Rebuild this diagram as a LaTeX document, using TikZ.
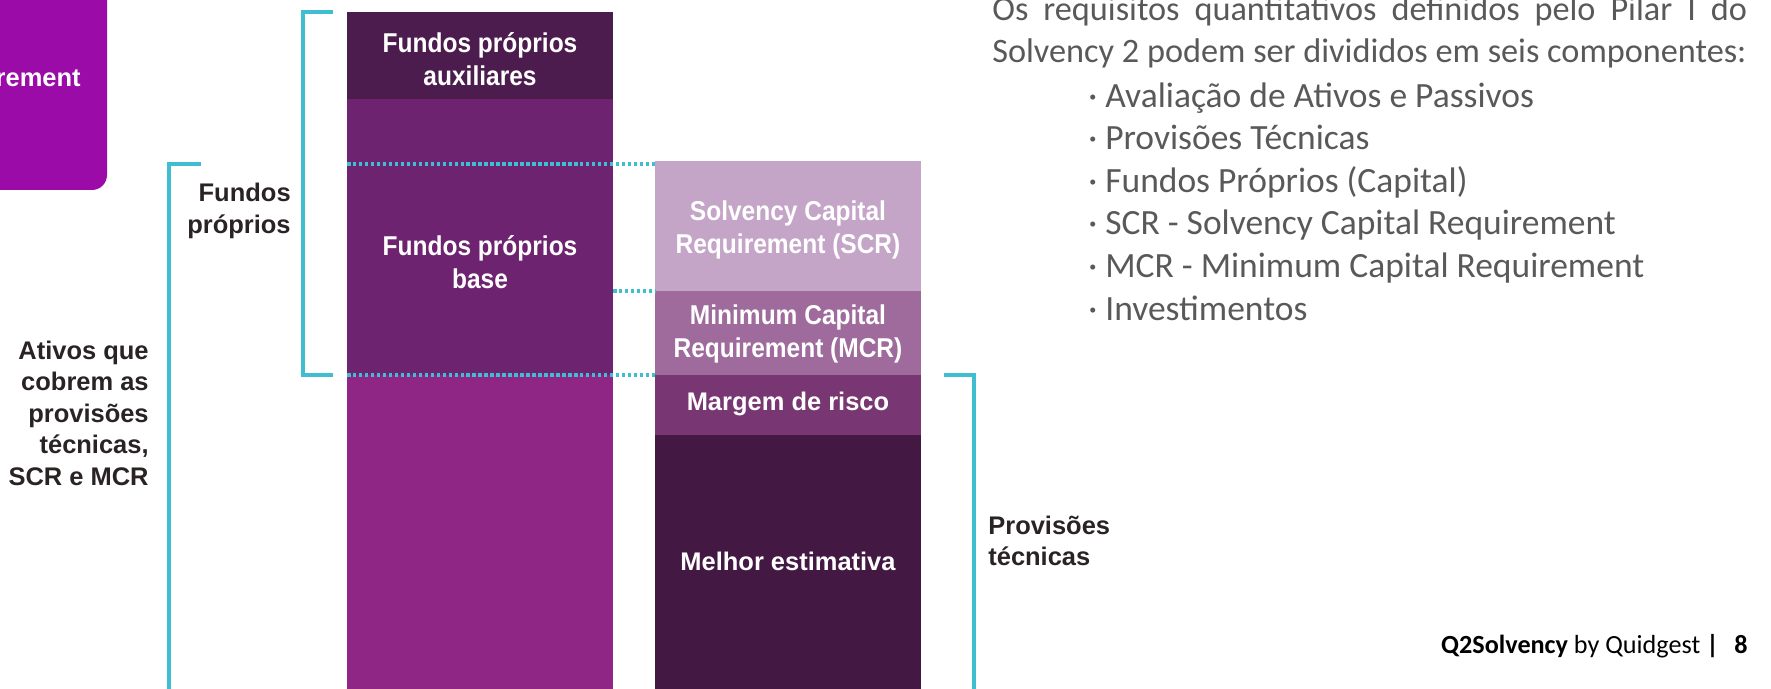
\documentclass[tikz,border=0pt]{standalone}
\usepackage{fontspec}
\setmainfont{Liberation Sans}
\newfontfamily\condfont[FakeStretch=0.9]{Liberation Sans}
\newfontfamily\bodyfont{Carlito}
\usetikzlibrary{positioning}

\definecolor{magentabox}{HTML}{9A0BA7}
\definecolor{auxcol}{HTML}{4C1C4E}
\definecolor{basecol}{HTML}{6E2370}
\definecolor{assetcol}{HTML}{8F2585}
\definecolor{scrcol}{HTML}{C4A5C7}
\definecolor{mcrcol}{HTML}{9E6B9C}
\definecolor{riskcol}{HTML}{783772}
\definecolor{bestcol}{HTML}{431944}
\definecolor{cyanline}{HTML}{3FBDD1}
\definecolor{labeltext}{HTML}{2A2324}
\definecolor{bodygray}{HTML}{595959}

\begin{document}
\begin{tikzpicture}[x=0.02cm, y=-0.02cm,
  bracket/.style={draw=cyanline, line width=2pt},
  dotline/.style={draw=cyanline, line width=2pt, dash pattern=on 2pt off 1.4pt},
  boxtext/.style={text=white, inner sep=0pt, align=center,
    font=\condfont\bfseries\fontsize{15.5}{18.8}\selectfont},
  boxtextwide/.style={text=white, inner sep=0pt, align=center,
    font=\bfseries\fontsize{14.5}{17.5}\selectfont},
  sidelabel/.style={text=labeltext, inner sep=0pt,
    font=\bfseries\fontsize{14.5}{17.9}\selectfont},
  bodytext/.style={text=bodygray, inner sep=0pt, anchor=base west,
    font=\bodyfont\fontsize{19.5}{24}\selectfont},
  itemtext/.style={bodytext, font=\bodyfont\fontsize{20.2}{24}\selectfont}]

\useasboundingbox (0,0) rectangle (1771,689);
\clip (0,0) rectangle (1771,689);

% ----------------------------
% TAB (cut off at the edge)
% ----------------------------
\fill[magentabox, rounded corners=0.3cm] (-40,-40) rectangle (107,190);
\node[anchor=base east, text=white, inner sep=0pt,
  font=\bfseries\fontsize{14.5}{17.5}\selectfont] (tab) at (81,87) {rement};

% ----------------------------
% LEFT COLUMN: ASSETS
% ----------------------------
\fill[auxcol]   (347,12)  rectangle (613,99);
\fill[basecol]  (347,99)  rectangle (613,375);
\fill[assetcol] (347,375) rectangle (613,700);

\node[boxtext] (aux)  at (480,59)  {Fundos próprios\\auxiliares};
\node[boxtext] (base) at (480,262) {Fundos próprios\\base};

% ----------------------------
% RIGHT COLUMN: REQUIREMENTS
% ----------------------------
\fill[scrcol]  (655,161) rectangle (921,291);
\fill[mcrcol]  (655,291) rectangle (921,375);
\fill[riskcol] (655,375) rectangle (921,435);
\fill[bestcol] (655,435) rectangle (921,700);

\node[boxtext]     (scr)  at (788,230) {Solvency Capital\\Requirement (SCR)};
\node[boxtext]     (mcr)  at (788,334) {Minimum Capital\\Requirement (MCR)};
\node[boxtextwide] (risk) at (788,404) {Margem de risco};
\node[boxtextwide] (best) at (788,561) {Melhor estimativa};

% ----------------------------
% DOTTED GUIDES
% ----------------------------
\draw[dotline] (347,164) -- (655,164);
\draw[dotline] (613,291) -- (655,291);
\draw[dotline] (347,375) -- (655,375);

% ----------------------------
% BRACKETS
% ----------------------------
\draw[bracket] (333,12) -- (303,12) -- (303,375) -- (333,375);
\draw[bracket] (201,164) -- (169,164) -- (169,700);
\draw[bracket] (944,375) -- (974,375) -- (974,700);

\node[sidelabel, align=right, anchor=east] (own)    at (291,211) {Fundos\\próprios};
\node[sidelabel, align=right, anchor=east] (assets) at (149,413)
  {Ativos que\\cobrem as\\provisões\\técnicas,\\SCR e MCR};
\node[sidelabel, align=left, anchor=west]  (tp)     at (988,541) {Provisões\\técnicas};

% ----------------------------
% TEXT ON THE RIGHT
% ----------------------------
\node[bodytext] (intro1) at (992,21)
  {\makebox[429.6pt][s]{Os requisitos quantitativos definidos pelo Pilar I do}};
\node[bodytext] (intro2) at (992,63) {Solvency 2 podem ser divididos em seis componentes:};

\foreach \comp [count=\i] in {Avaliação de Ativos e Passivos, Provisões Técnicas,
    Fundos Próprios (Capital), SCR - Solvency Capital Requirement,
    MCR - Minimum Capital Requirement, Investimentos} {
  \node[itemtext] (item\i) at (1088,{65+42.5*\i}) {· \comp};
}

% footer
\node[anchor=base east, inner sep=0pt, text=black,
  font=\bodyfont\fontsize{14.9}{17}\selectfont] (footer) at (1748,653)
  {\textbf{Q2Solvency} by Quidgest \textbf{|}\hspace{0.6em}\textbf{8}};

\end{tikzpicture}
\end{document}
